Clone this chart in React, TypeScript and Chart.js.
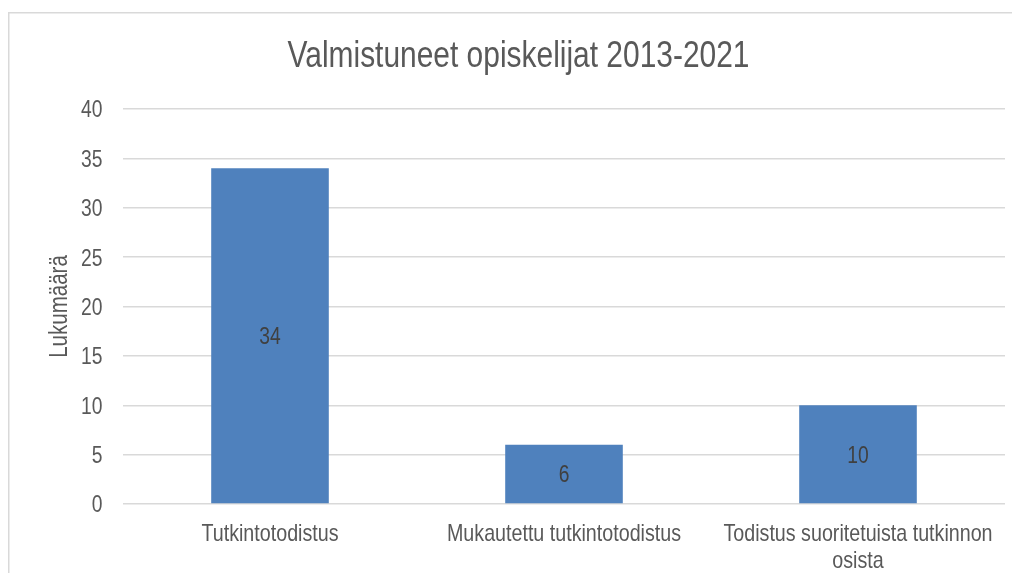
import React, { useEffect, useRef } from "react";
import { Chart, registerables } from "chart.js";

Chart.register(...registerables);

const chartTitle = "Valmistuneet opiskelijat 2013-2021";
const yAxisTitle = "Lukumäärä";
const categories: string[][] = [
  ["Tutkintotodistus"],
  ["Mukautettu tutkintotodistus"],
  ["Todistus suoritetuista tutkinnon", "osista"],
];
const values = [34, 6, 10];
const yTicks = [0, 5, 10, 15, 20, 25, 30, 35, 40];

const FONT = "'Liberation Sans', Arial, sans-serif";
const SQUEEZE = 0.82;
const CAP = 0.716;

function narrowText(
  ctx: CanvasRenderingContext2D,
  text: string,
  x: number,
  y: number,
  size: number,
  color: string,
  align: CanvasTextAlign,
  rotate = false
) {
  ctx.save();
  ctx.translate(x, y);
  if (rotate) ctx.rotate(-Math.PI / 2);
  ctx.scale(SQUEEZE, 1);
  ctx.font = `${size}px ${FONT}`;
  ctx.fillStyle = color;
  ctx.textAlign = align;
  ctx.textBaseline = "alphabetic";
  ctx.fillText(text, 0, 0);
  ctx.restore();
}

const textPlugin = {
  id: "textPlugin",
  beforeDraw(chart: any) {
    const ctx = chart.ctx;
    ctx.save();
    ctx.strokeStyle = "#d9d9d9";
    ctx.lineWidth = 1.5;
    ctx.beginPath();
    ctx.moveTo(0.75, chart.height + 10);
    ctx.lineTo(0.75, 4.75);
    ctx.lineTo(chart.width + 10, 4.75);
    ctx.stroke();
    ctx.restore();
  },
  afterDraw(chart: any) {
    const ctx = chart.ctx;
    const area = chart.chartArea;
    const xs = chart.scales.x;
    const ys = chart.scales.y;
    const grey = "#595959";

    // title
    narrowText(ctx, chartTitle, 510.5, 59, 36.5, grey, "center");

    // y tick labels
    const tSize = 23.5;
    yTicks.forEach((v) => {
      const py = ys.getPixelForValue(v);
      narrowText(ctx, String(v), 94.5, py + (CAP * tSize) / 2, tSize, grey, "right");
    });

    // y axis title
    narrowText(ctx, yAxisTitle, 59, (area.top + area.bottom) / 2, 25, grey, "center", true);

    // x category labels
    const cSize = 24;
    categories.forEach((lines, i) => {
      const px = xs.getPixelForTick(i);
      lines.forEach((line, j) => {
        narrowText(ctx, line, px, 532.5 + j * 27.5, cSize, grey, "center");
      });
    });

    // data labels
    const meta = chart.getDatasetMeta(0);
    const dSize = 23.5;
    meta.data.forEach((bar: any, i: number) => {
      const cy = (bar.y + bar.base) / 2;
      narrowText(ctx, String(values[i]), bar.x, cy + (CAP * dSize) / 2, dSize, "#404040", "center");
    });
  },
};

export default function App() {
  const ref = useRef<HTMLCanvasElement>(null);
  useEffect(() => {
    if (!ref.current) return;
    const chart = new Chart(ref.current, {
      type: "bar",
      data: {
        labels: categories.map((c) => c.join(" ")),
        datasets: [
          {
            data: values,
            backgroundColor: "#4f81bd",
            borderWidth: 0,
            categoryPercentage: 0.4,
            barPercentage: 1,
          },
        ],
      },
      options: {
        animation: false,
        responsive: false,
        layout: { padding: { left: 0, right: 7, top: 101, bottom: 0 } },
        plugins: {
          legend: { display: false },
          tooltip: { enabled: false },
          title: { display: false },
        },
        scales: {
          x: {
            grid: { display: false },
            border: { display: false },
            ticks: { display: false },
            afterFit: (scale: any) => {
              scale.height = 69;
            },
          },
          y: {
            min: 0,
            max: 40,
            afterBuildTicks: (scale: any) => {
              scale.ticks = yTicks.map((v) => ({ value: v }));
            },
            grid: { color: "#d9d9d9", lineWidth: 1.5, drawTicks: false },
            border: { display: false },
            ticks: { display: false },
            afterFit: (scale: any) => {
              scale.width = 115;
            },
          },
        },
      },
      plugins: [textPlugin],
    });
    return () => chart.destroy();
  }, []);
  return (
    <div style={{ width: 1004, height: 565 }}>
      <canvas ref={ref} width={1004} height={565} style={{ display: "block" }} />
    </div>
  );
}
